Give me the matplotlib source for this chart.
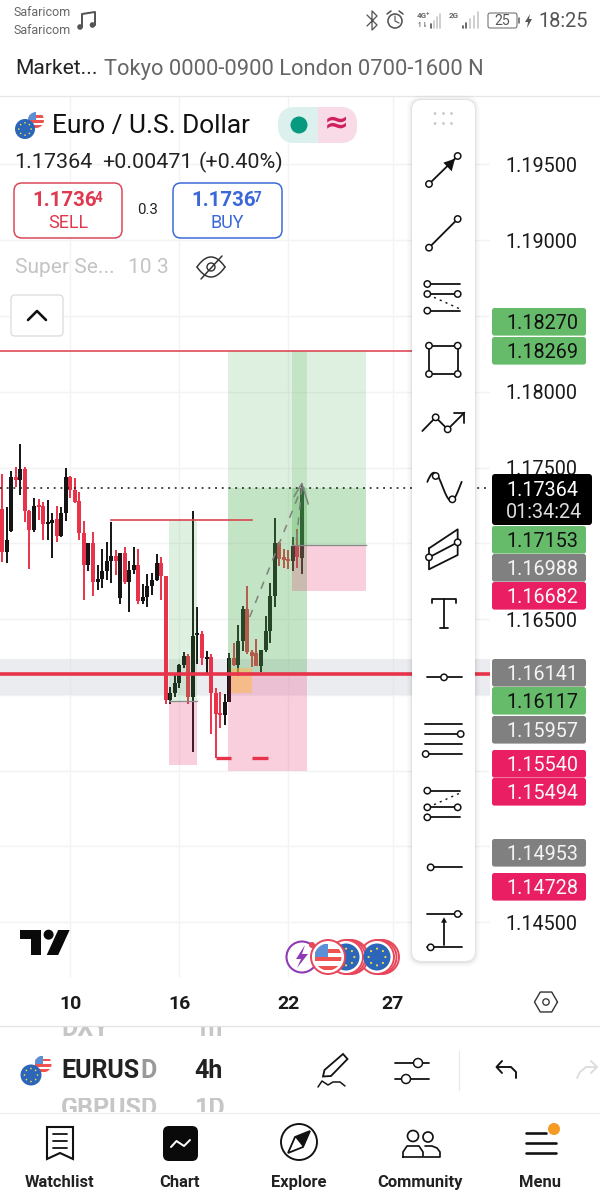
#!/usr/bin/env python3
"""TradingView mobile screenshot of EURUSD 4h, redrawn as a figure."""
import numpy as np
import matplotlib
matplotlib.use("Agg")
import matplotlib.pyplot as plt
from matplotlib.patches import Circle, FancyBboxPatch, Polygon, Rectangle

plt.rcParams["font.family"] = ["Roboto", "DejaVu Sans"]

# candles, one value per 4h bar
OPEN = [1.17227, 1.16945, 1.17084, 1.17436, 1.17418, 1.17488, 1.17213, 1.17088, 1.17253, 1.17246,
        1.17128, 1.17136, 1.17158, 1.17051, 1.17202, 1.17440, 1.17352, 1.17279, 1.17066, 1.16857,
        1.17000, 1.16747, 1.16762, 1.16820, 1.16886, 1.16916, 1.16641, 1.16938, 1.16747, 1.16824,
        1.16857, 1.16622, 1.16644, 1.16718, 1.16758, 1.16872, 1.16784, 1.15966, 1.16014, 1.16080,
        1.16197, 1.16256, 1.15988, 1.16395, 1.16402, 1.16239, 1.16248, 1.16014, 1.15878, 1.15867,
        1.15955, 1.16241, 1.16197, 1.16358, 1.16564, 1.16285, 1.16278, 1.16190, 1.16296, 1.16424,
        1.16652, 1.17000, 1.16908, 1.16894, 1.16886, 1.16982, 1.16903]
HIGH = [1.17458, 1.17238, 1.17480, 1.17506, 1.17656, 1.17506, 1.17220, 1.17297, 1.17290, 1.17275,
        1.17286, 1.17198, 1.17246, 1.17242, 1.17495, 1.17444, 1.17433, 1.17341, 1.17150, 1.17004,
        1.17077, 1.16857, 1.16960, 1.17011, 1.17143, 1.16956, 1.16938, 1.16978, 1.16886, 1.16974,
        1.16960, 1.16732, 1.16798, 1.16802, 1.16930, 1.16912, 1.16784, 1.16054, 1.16131, 1.16204,
        1.16285, 1.16270, 1.17216, 1.16582, 1.16424, 1.16292, 1.16270, 1.16043, 1.16021, 1.16006,
        1.16274, 1.16340, 1.16461, 1.16586, 1.16718, 1.16296, 1.16366, 1.16296, 1.16520, 1.16736,
        1.17165, 1.17011, 1.16960, 1.16956, 1.17040, 1.17092, 1.17391]
LOW = [1.16879, 1.16872, 1.17077, 1.17374, 1.17319, 1.17143, 1.16831, 1.17077, 1.17154, 1.17022,
       1.17022, 1.16901, 1.17011, 1.17040, 1.17150, 1.17297, 1.17268, 1.17022, 1.16626, 1.16820,
       1.16652, 1.16692, 1.16703, 1.16758, 1.16740, 1.16791, 1.16600, 1.16732, 1.16549, 1.16798,
       1.16600, 1.16600, 1.16582, 1.16659, 1.16750, 1.16626, 1.15940, 1.15940, 1.15988, 1.16043,
       1.16175, 1.15940, 1.15625, 1.16204, 1.16197, 1.16138, 1.15742, 1.15581, 1.15779, 1.15801,
       1.15955, 1.16190, 1.16124, 1.16292, 1.16270, 1.16182, 1.16190, 1.16153, 1.16285, 1.16344,
       1.16582, 1.16850, 1.16835, 1.16828, 1.16820, 1.16835, 1.16797]
CLOSE = [1.16945, 1.17022, 1.17436, 1.17418, 1.17488, 1.17213, 1.17088, 1.17246, 1.17242, 1.17125,
         1.17136, 1.17154, 1.17051, 1.17198, 1.17440, 1.17352, 1.17275, 1.17066, 1.16857, 1.17000,
         1.16747, 1.16762, 1.16820, 1.16886, 1.16916, 1.16886, 1.16938, 1.16747, 1.16824, 1.16855,
         1.16622, 1.16644, 1.16718, 1.16758, 1.16868, 1.16784, 1.15966, 1.16010, 1.16080, 1.16197,
         1.16256, 1.15988, 1.16388, 1.16406, 1.16241, 1.16248, 1.16014, 1.15874, 1.15867, 1.15955,
         1.16241, 1.16197, 1.16358, 1.16564, 1.16285, 1.16256, 1.16190, 1.16296, 1.16424, 1.16652,
         1.17000, 1.16894, 1.16890, 1.16886, 1.16982, 1.16912, 1.17364]

LAST_PRICE = 1.17364
PRICE_TICKS = [1.145, 1.15, 1.155, 1.16, 1.165, 1.17, 1.175, 1.18, 1.185, 1.19, 1.195]
PRICE_LABELLED = [1.145, 1.165, 1.175, 1.18, 1.19, 1.195]
DAY_BARS = [15, 39, 63, 86]
DAY_LABELS = ["10", "16", "22", "27"]

# long position tools: bar span, target, entry, stop
POS_LEFT = [36.75, 49.8, 63.8]
POS_RIGHT = [43.0, 67.07, 80.07]
POS_TARGET = [1.17153, 1.18270, 1.18269]
POS_ENTRY = [1.15957, 1.16141, 1.16988]
POS_STOP = [1.15540, 1.15494, 1.16682]
POS_LIVE = [False, True, True]

ZONE_TOP, ZONE_BOTTOM = 1.16237, 1.15998
ZONE_LEVEL = 1.16137
UPPER_LEVEL = 1.18269
STUB_LEVEL, STUB_START, STUB_END = 1.17153, 24, 55
ORDER_BOX = (50.5, 55, 1.16010, 1.16179)
SWEEP_LEVEL = 1.15583
SWEEP_SPANS = [(47, 50.5), (55, 58.6)]
PROJECTION_X = [54.5, 66.0]
PROJECTION_Y = [1.16513, 1.17370]
PROJECTION2_X = [64.8, 66.0]
PROJECTION2_Y = [1.17020, 1.17370]

SIDE_LABELS = ["1.18270", "1.18269", "1.17153", "1.16988", "1.16682", "1.16141", "1.16117",
               "1.15957", "1.15540", "1.15494", "1.14953", "1.14728"]
SIDE_KINDS = ["g", "g", "g", "k", "p", "k", "g", "k", "p", "p", "k", "p"]
TAB_NAMES = ["Watchlist", "Chart", "Explore", "Community", "Menu"]

RED = "#e8344a"
INK = "#141414"
GREEN = "#4caf50"
PINK = "#e91e63"
SIDE_FILL = {"g": "#66bb6a", "k": "#808080", "p": "#e91e63"}
SIDE_TEXT = {"g": "#111111", "k": "#f4f4f4", "p": "#f8f8f8"}

fig = plt.figure(figsize=(6, 12), dpi=100, facecolor="white")
W, H = 600.0, 1200.0

# ---- chart ----
ax = fig.add_axes([0, 1 - 977 / H, 490 / W, (977 - 97) / H])
ax.set_xlim(-0.485, 107.44)
ax.set_ylim(1.141375, 1.199455)
for s in ax.spines.values():
    s.set_visible(False)
ax.yaxis.tick_right()
ax.set_yticks(PRICE_TICKS)
ax.set_yticklabels([f"{p:.5f}" if p in PRICE_LABELLED else "" for p in PRICE_TICKS],
                   fontsize=14.2, color="#1a1a1a")
ax.set_xticks(DAY_BARS)
ax.set_xticklabels(DAY_LABELS, fontsize=14, fontweight="bold", color="#1a1a1a")
ax.tick_params(axis="y", length=0, pad=11)
ax.tick_params(axis="x", length=0, pad=13.2)
ax.grid(True, color="#f2f3f5", linewidth=1.0)
ax.set_axisbelow(True)

ax.axhspan(ZONE_BOTTOM, ZONE_TOP, color="#d1d4dc", alpha=0.42, lw=0, zorder=1)

bars = np.arange(len(OPEN))
o, h, l, c = map(np.array, (OPEN, HIGH, LOW, CLOSE))
colors = [INK if cc >= oo else RED for oo, cc in zip(o, c)]
ax.vlines(bars, l, h, colors=colors, linewidth=1.4, zorder=2)
ax.bar(bars, np.maximum(np.abs(c - o), 0.00012), bottom=np.minimum(o, c), width=0.88,
       color=colors, linewidth=0, zorder=2)

for left, right, target, entry, stop, live in zip(POS_LEFT, POS_RIGHT, POS_TARGET, POS_ENTRY,
                                                  POS_STOP, POS_LIVE):
    ax.bar(left, target - entry, bottom=entry, width=right - left, align="edge",
           color=GREEN, alpha=0.18, linewidth=0, zorder=3)
    ax.bar(left, entry - stop, bottom=stop, width=right - left, align="edge",
           color=PINK, alpha=0.21, linewidth=0, zorder=3)
    if live:
        ax.bar(left, LAST_PRICE - entry, bottom=entry, width=right - left, align="edge",
               color=GREEN, alpha=0.18, linewidth=0, zorder=3)
    ax.plot([left, right], [entry, entry], color="#8a8a8a", lw=0.9, zorder=3)

ax.bar(ORDER_BOX[0], ORDER_BOX[3] - ORDER_BOX[2], bottom=ORDER_BOX[2],
       width=ORDER_BOX[1] - ORDER_BOX[0], align="edge", color="#ffb74d", alpha=0.55,
       linewidth=0, zorder=3)

ax.axhline(UPPER_LEVEL, xmax=412 / 490, color="#dc3c4c", lw=1.1, zorder=4)
ax.axhline(ZONE_LEVEL, color=RED, lw=2.6, zorder=4)
ax.plot([STUB_START, STUB_END], [STUB_LEVEL, STUB_LEVEL], color="#dc4450", lw=1.2, zorder=4)
for a, b in SWEEP_SPANS:
    ax.plot([a, b], [SWEEP_LEVEL, SWEEP_LEVEL], color=RED, lw=2.4, solid_capstyle="butt", zorder=4)
ax.axhline(LAST_PRICE, color="#111111", lw=1.1, dashes=(1.2, 3.2), zorder=4)

ax.plot(PROJECTION_X, PROJECTION_Y, color="#808080", lw=1.1, dashes=(5, 5), zorder=5)
ax.plot(PROJECTION2_X, PROJECTION2_Y, color="#808080", lw=1.1, dashes=(5, 5), zorder=5)
ax.plot([64.3, 66.0, 67.4], [1.17310, 1.17395, 1.17260], color="#808080", lw=1.1, zorder=5)

# ---- app chrome, drawn in screen pixels ----
ui = fig.add_axes([0, 0, 1, 1], zorder=5)
ui.set_xlim(0, W)
ui.set_ylim(H, 0)
ui.axis("off")


def text(x, y, s, px, color="#111111", ha="left", weight="normal", z=6, **kw):
    return ui.text(x, y + 2, s, fontsize=px * 0.72, color=color, ha=ha, va="center",
                   fontweight=weight, zorder=z, **kw)


def rbox(x0, y0, x1, y1, r=3, fc="white", ec="none", lw=1.0, z=3, alpha=None):
    p = FancyBboxPatch((x0, y0), x1 - x0, y1 - y0, boxstyle=f"round,pad=0,rounding_size={r}",
                       fc=fc, ec=ec, lw=lw * 0.72, zorder=z, alpha=alpha)
    ui.add_patch(p)
    return p


def line(xs, ys, color="#111111", lw=1.8, z=6, **kw):
    ui.plot(xs, ys, color=color, lw=lw * 0.72, zorder=z, solid_capstyle="round", **kw)


def dot(x, y, r=3.2, ec="#111111", fc="white", lw=1.5, z=7):
    ui.add_patch(Circle((x, y), r, fc=fc, ec=ec, lw=lw * 0.72, zorder=z))


def flag_eu(x, y, r, z=7):
    ui.add_patch(Circle((x, y), r, fc="#2b66b8", ec="none", zorder=z))
    for a in np.arange(0, 2 * np.pi, np.pi / 4):
        ui.add_patch(Circle((x + 0.62 * r * np.cos(a), y + 0.62 * r * np.sin(a)), r * 0.08,
                            fc="#f5d94e", ec="none", zorder=z + 0.1))


def flag_us(x, y, r, z=7):
    clip = Circle((x, y), r, fc="white", ec="none", zorder=z)
    ui.add_patch(clip)
    for i in range(3):
        st = Rectangle((x - r, y - r + 0.4 * r + i * 0.62 * r), 2 * r, 0.3 * r, fc="#ef5350",
                       ec="none", zorder=z + 0.1)
        ui.add_patch(st)
        st.set_clip_path(clip)
    can = Rectangle((x - r, y - r), r, r, fc="#5b8fd6", ec="none", zorder=z + 0.2)
    ui.add_patch(can)
    can.set_clip_path(clip)


# status bar
text(14, 10, "Safaricom", 12.5, "#666666")
text(14, 28, "Safaricom", 12.5, "#666666")
line([82, 82, 95, 95], [27, 14, 12, 25], "#555555", 2)
ui.add_patch(Circle((80, 27), 2.8, fc="#555555", ec="none"))
ui.add_patch(Circle((92.5, 25), 2.8, fc="#555555", ec="none"))
line([367, 377, 372, 372, 377, 367], [15, 25, 30, 11, 16, 26], "#555555", 1.3)
dot(395, 21, 7, "#555555", lw=1.6)
line([395, 395, 399], [16, 21, 23], "#555555", 1.2, z=8)
line([387, 391], [14, 11], "#555555", 1.6)
line([403, 399], [14, 11], "#555555", 1.6)
text(417, 13, "4G⁺", 8, "#666666", weight="bold")
text(417, 23, "↿⇂", 7, "#666666", weight="bold")
text(449, 13, "2G", 8, "#666666", weight="bold")
for k, bx in enumerate([431, 434, 437, 440]):
    line([bx, bx], [28, 24 - 3.5 * k], "#555555" if k < 1 else "#c8c8c8", 1.7)
for k, bx in enumerate([463, 466, 470, 474, 478]):
    line([bx, bx], [28, 26 - 3.5 * k], "#555555" if k < 2 else "#c8c8c8", 1.7)
rbox(488, 13, 517, 28, 2, ec="#666666", lw=1)
line([519, 519], [18, 23], "#666666", 1.6)
text(502.5, 19, "25", 14, "#555555", ha="center")
ui.add_patch(Polygon([[530, 14], [525, 22], [528, 22], [527, 28], [532, 19], [529, 19]], fc="#555555", ec="none"))
text(538, 19.5, "18:25", 20, "#555555")

# market strip and separator
text(15, 67, "Market...", 21, "#222222")
text(104, 67, "Tokyo 0000-0900 London 0700-1600 N", 21.9, "#666666")
line([0, 600], [96, 96], "#e6e6e6", 1.2, z=2)

# symbol header
flag_us(36, 120, 8, z=6)
flag_eu(25, 129, 10, z=7)
text(52, 124, "Euro / U.S. Dollar", 26.3, "#111111")
rbox(278, 107, 357, 143, 17, fc="#dcf1ee", z=4)
clip_p = rbox(278, 107, 357, 143, 17, fc="#f9dbe7", z=4.5)
clip_p.set_clip_path(Rectangle((318, 100), 45, 50, transform=ui.transData))
ui.add_patch(Circle((299, 125), 8.5, fc="#089981", ec="none", zorder=6))
text(336, 121.5, "≈", 30, "#d0215f", ha="center", weight="bold", family="DejaVu Sans")
text(14, 160, "1.17364", 21.5, "#222222")
text(102, 160, "+0.00471", 21.5, "#222222")
text(199, 160, "(+0.40%)", 21.5, "#222222")

rbox(14, 183, 122, 238, 8, ec="#dc4558", lw=1.5)
text(32, 198.5, "1.1736", 20.5, "#e0384e", weight="bold")
text(95, 196.5, "4", 13.5, "#e0384e", weight="bold")
text(68, 221.5, "SELL", 18, "#e0384e", ha="center")
text(147.5, 208.5, "0.3", 15, "#222222", ha="center")
rbox(173, 183, 282, 238, 8, ec="#3a68d8", lw=1.5)
text(191, 198.5, "1.1736", 20.5, "#3a68d8", weight="bold")
text(254, 196.5, "7", 13.5, "#3a68d8", weight="bold")
text(227, 221.5, "BUY", 18, "#3a68d8", ha="center")

text(15, 265.5, "Super Se...", 21, "#c4c4c4")
text(128, 265.5, "10 3", 21, "#c4c4c4")
u = np.linspace(-1, 1, 40)
line(211 + 14 * u, 267 - 10 * (1 - u ** 2), "#333333", 1.5)
line(211 + 14 * u, 267 + 10 * (1 - u ** 2), "#333333", 1.5)
dot(211, 267, 4, "#333333", fc="none", lw=1.4)
line([201, 222], [279, 256], "#333333", 1.5)
rbox(11, 295, 63, 336, 4, ec="#dcdcdc", lw=1.3, fc="white")
line([28, 37, 46], [320, 311, 320], "#111111", 2.6)

# drawing tools panel with soft shadow
for grow, al in [(5, 0.015), (3.5, 0.02), (2, 0.03), (1, 0.04)]:
    rbox(412 - grow, 100 - grow, 475 + grow, 961 + grow + 1, 10 + grow, fc="#000000", z=2.6, alpha=al)
rbox(412, 100, 475, 961, 10, fc="white", z=3)
for dx in (435, 443.5, 451.5):
    for dy in (113.5, 123.5):
        ui.add_patch(Circle((dx, dy), 1.4, fc="#c8c8c8", ec="none", zorder=6))

# icons are sketched from the zoomed crops, so a small mapping keeps them legible


def zx(v):
    return 410 + v / 3


def zy(v):
    return 100 + v / 3


def zy2(v):
    return 530 + v / 3


# arrow
line([zx(57), zx(143)], [zy(252), zy(168)])
ui.add_patch(Polygon([[zx(135), zy(176)], [zx(100), zy(188)], [zx(125), zy(214)]], fc="#111111", ec="none", zorder=6))
dot(zx(57), zy(252)); dot(zx(143), zy(168))
# trend line
line([zx(57), zx(143)], [zy(443), zy(357)])
dot(zx(57), zy(443)); dot(zx(143), zy(357))
# pitchfan
for yy, x1 in [(552, 150), (582, 150), (632, 150)]:
    line([zx(52), zx(x1)], [zy(yy), zy(yy)])
line([zx(72), zx(148)], [zy(592), zy(626)], lw=1.4, dashes=(1.5, 3))
dot(zx(52), zy(552)); dot(zx(52), zy(582)); dot(zx(143), zy(582)); dot(zx(52), zy(632))
# rectangle
line([zx(57), zx(143), zx(143), zx(57), zx(57)], [zy(737), zy(737), zy(822), zy(822), zy(737)])
for a, b in [(57, 737), (143, 737), (57, 822), (143, 822)]:
    dot(zx(a), zy(b))
# path
line([zx(37), zx(77), zx(113), zx(163)], [zy(993), zy(952), zy(988), zy(938)])
line([zx(133), zx(163), zx(163)], [zy(938), zy(938), zy(968)])
dot(zx(77), zy(952)); dot(zx(113), zy(988))
# curve
t = np.linspace(0, 1, 40)
line(zx(52 + 103 * t), zy(1160 - 42 * np.sin(t * 2 * np.pi + 0.35)))
dot(zx(77), zy(1128)); dot(zx(127), zy(1198))
# channel
line([zx(57), zx(143), zx(143), zx(57), zx(57)], [zy2(55), zy2(-2), zy2(75), zy2(118), zy2(55)])
line([zx(57), zx(143)], [zy2(82), zy2(37)])
dot(zx(57), zy2(82)); dot(zx(143), zy2(37))
# text
line([zx(67), zx(67), zx(138), zx(138)], [zy2(220), zy2(208), zy2(208), zy2(220)])
line([zx(102), zx(102)], [zy2(208), zy2(293)])
line([zx(90), zx(115)], [zy2(293), zy2(293)])
# horizontal ray
line([zx(50), zx(155)], [zy2(442), zy2(442)])
dot(zx(102), zy2(442))
# four lines
for yy in (582, 612, 642, 672):
    line([zx(45), zx(155)], [zy2(yy), zy2(yy)])
dot(zx(152), zy2(612)); dot(zx(47), zy2(672))
# fib
for yy in (782, 832, 862):
    line([zx(52), zx(150)], [zy2(yy), zy2(yy)])
line([zx(72), zx(148)], [zy2(824), zy2(790)], lw=1.4, dashes=(1.5, 3))
dot(zx(52), zy2(782)); dot(zx(52), zy2(832)); dot(zx(143), zy2(832)); dot(zx(52), zy2(862))
# ray
line([zx(62), zx(155)], [zy2(1012), zy2(1012)])
dot(zx(62), zy2(1012))
# measure
line([zx(50), zx(155)], [zy2(1152), zy2(1152)])
line([zx(50), zx(155)], [zy2(1252), zy2(1252)])
line([zx(102), zx(102)], [zy2(1245), zy2(1172)])
ui.add_patch(Polygon([[zx(102), zy2(1162)], [zx(93), zy2(1178)], [zx(111), zy2(1178)]], fc="#111111", ec="none", zorder=6))
dot(zx(143), zy2(1152)); dot(zx(62), zy2(1252))

# price scale labels
SIDE_TOPS = [308, 337, 526, 554, 582, 659, 687, 716, 750, 778, 839, 873]
for lab, kind, top in zip(SIDE_LABELS, SIDE_KINDS, SIDE_TOPS):
    rbox(492, top, 586, top + 27.6, 2.5, fc=SIDE_FILL[kind], z=4)
    ui.text(506, top + 15.5, lab, fontsize=14.2, color=SIDE_TEXT[kind], va="center", zorder=5)
rbox(492, 474, 592, 525, 3, fc="#000000", z=6)
ui.text(506, 490, "1.17364", fontsize=14.2, color="white", va="center", zorder=7)
ui.text(506, 513, "01:34:24", fontsize=14.2, color="#dddddd", va="center", zorder=7)

# logo
lx = lambda v: v / 2.613
ly = lambda v: 920 + v / 3
ui.add_patch(Polygon([[lx(52), ly(30)], [lx(107), ly(30)], [lx(107), ly(105)], [lx(80), ly(105)],
                      [lx(80), ly(58)], [lx(52), ly(58)]], fc="#0a0a0a", ec="none", zorder=4))
ui.add_patch(Circle((lx(127), ly(44)), 5, fc="#0a0a0a", ec="none", zorder=4))
ui.add_patch(Polygon([[lx(182), ly(30)], [lx(152), ly(105)], [lx(122), ly(105)], [lx(152), ly(30)]],
                     fc="#0a0a0a", ec="none", zorder=4))

# event badges
for cx, rings in [(377, 2), (346, 2)]:
    for off in range(rings, 0, -1):
        ui.add_patch(Circle((cx + off * 2.5, 957), 17, fc="white", ec="#e8465a", lw=1.4, zorder=4))
    ui.add_patch(Circle((cx, 957), 17, fc="white", ec="#e8465a", lw=1.4, zorder=4))
    flag_eu(cx, 957, 13.5, z=4.5)
ui.add_patch(Circle((302, 957), 15.5, fc="white", ec="#8e3bb5", lw=1.5, zorder=4.7))
ui.add_patch(Polygon([[305, 945], [296, 959], [301, 959], [297, 968], [308, 954], [302, 954]],
                     fc="#8e3bb5", ec="none", zorder=4.8))
ui.add_patch(Circle((328, 957), 17, fc="white", ec="#e8465a", lw=1.4, zorder=5))
flag_us(328, 957, 13.5, z=5.1)
ui.add_patch(Circle((312, 945), 3, fc="#e8465a", ec="none", zorder=5.2))

# scale settings hexagon
a6 = np.arange(7) * np.pi / 3
line(546 + 11.5 * np.cos(a6), 1002 + 11.5 * np.sin(a6), "#333333", 1.4)
dot(546, 1002, 3.2, "#333333", lw=1.3)

# symbol and interval picker
line([0, 600], [1026, 1026], "#e4e4e4", 1.3, z=2)
line([0, 600], [1113, 1113], "#eeeeee", 1.2, z=2)
for s, x, y, y0, y1 in [("DXY", 61, 1027, 1027, 1041), ("1h", 195, 1027, 1027, 1041),
                        ("GBPUSD", 61, 1107, 1098, 1112), ("1D", 195, 1107, 1098, 1112)]:
    tt = text(x, y, s, 25, "#c6c6c6", weight="bold")
    tt.set_clip_on(True)
    tt.set_clip_path(Rectangle((0, y0), 300, y1 - y0, transform=ui.transData))
flag_us(43, 1064, 8.5, z=6)
flag_eu(31, 1075, 10.5, z=7)
text(61, 1068.5, "EURUS", 25, "#222222", weight="bold")
text(140, 1068.5, "D", 25, "#999999", weight="bold")
text(194, 1068.5, "4h", 25, "#222222", weight="bold")
# pencil
ui.add_patch(Polygon([[343, 1054], [347.5, 1059], [331, 1076], [323, 1076.5], [324.5, 1070]],
                     fc="white", ec="#111111", lw=1.3, zorder=6))
line([318, 322, 328, 333, 340, 345], [1087, 1081, 1085, 1082, 1082, 1086], lw=1.5)
# sliders
line([395, 429], [1063, 1063]); line([395, 429], [1079, 1079])
dot(418, 1063, 4.5); dot(406, 1079, 4.5)
line([459, 459], [1051, 1090], "#e8e8e8", 1.2)
# undo / redo
line([497, 511, 516, 516], [1067, 1067, 1072, 1078], "#111111", 1.9)
line([502, 496.5, 502], [1061, 1067, 1073], "#111111", 1.9)
line([597, 586, 580, 577], [1067, 1067, 1072, 1078], "#dddddd", 1.9)
line([591, 597, 591], [1061, 1067, 1073], "#dddddd", 1.9)

# tab bar
for name, cx in zip(TAB_NAMES, [60, 180, 299, 420, 540]):
    text(cx, 1180.5, name, 16.5, "#222222", ha="center", weight="bold")
# watchlist
ui.add_patch(Polygon([[47, 1127], [73, 1127], [73, 1159], [60, 1153], [47, 1159]], fc="white",
                     ec="#111111", lw=1.5, zorder=6))
for yy in (1134, 1141, 1148):
    line([53, 67], [yy, yy], lw=1.8, z=7)
# chart
rbox(163, 1126, 198, 1161, 6, fc="#0a0a0a", z=5)
line([171, 176.5, 184, 190], [1147, 1141, 1146, 1140], "white", 2)
# explore
dot(299, 1142, 18, lw=1.9)
ui.add_patch(Polygon([[310, 1131], [303, 1147], [288, 1153], [295, 1137]], fc="white", ec="#111111", lw=1.3, zorder=8))
ui.add_patch(Polygon([[310, 1131], [303, 1147], [295, 1137]], fc="#111111", ec="none", zorder=8.5))
# community
dot(413, 1136, 5.5, lw=1.7)
dot(428, 1137, 5, lw=1.7)
line([403, 403, 407, 419, 423, 423, 403], [1157, 1152, 1146, 1146, 1152, 1157, 1157], lw=1.7)
line([425, 432, 437, 440, 440, 424], [1146, 1146, 1148, 1152, 1157, 1157], lw=1.7)
# menu
line([526, 546], [1133, 1133], lw=2.6)
line([526, 556], [1143, 1143], lw=2.6)
line([526, 556], [1153, 1153], lw=2.6)
ui.add_patch(Circle((554, 1129), 6, fc="#f59a23", ec="none", zorder=7))

fig.savefig("out.png", dpi=100)
